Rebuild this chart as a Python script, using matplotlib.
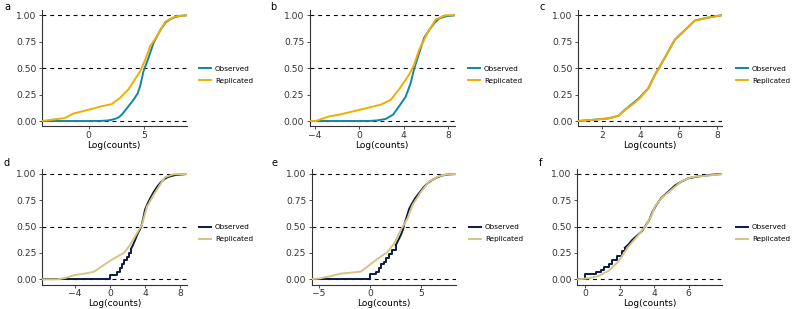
import numpy as np
import matplotlib
matplotlib.use('Agg')
import matplotlib.pyplot as plt
from matplotlib.lines import Line2D

plt.rcParams['font.family'] = ['DejaVu Sans']

###########################################################################
# 1. Data (ECDF knots of log counts)
###########################################################################
# panel a
a_obs_x = [-4.2, -2.0, 0.0, 1.0, 1.62, 2.0, 2.37, 2.7, 2.98, 3.43, 4.03, 4.4, 4.63, 4.93, 5.39, 5.84, 6.14, 6.5, 6.9, 7.3, 7.8, 8.3, 8.8]
a_obs_y = [0, 0, 0, 0.001, 0.004, 0.01, 0.02, 0.035, 0.06, 0.12, 0.2, 0.26, 0.33, 0.47, 0.6, 0.74, 0.8, 0.87, 0.93, 0.96, 0.985, 0.995, 1.0]
a_rep_x = [-4.25, -2.14, -1.39, 0.12, 1.17, 2.07, 2.83, 3.58, 4.63, 5.09, 5.54, 6.14, 6.9, 7.8, 8.85]
a_rep_y = [0, 0.028, 0.07, 0.11, 0.14, 0.16, 0.22, 0.30, 0.47, 0.58, 0.71, 0.80, 0.94, 0.99, 1.0]
# panel b
b_obs_x = [-4.5, -2.0, 0.0, 1.0, 1.65, 2.4, 3.05, 3.6, 4.19, 4.64, 4.94, 5.39, 5.84, 6.3, 6.8, 7.2, 7.8, 8.6]
b_obs_y = [0, 0, 0, 0.001, 0.006, 0.02, 0.06, 0.14, 0.23, 0.36, 0.49, 0.64, 0.785, 0.86, 0.93, 0.97, 0.99, 1.0]
b_rep_x = [-4.5, -3.9, -2.7, -1.8, -0.6, 0.6, 1.95, 2.84, 3.6, 4.5, 4.94, 5.4, 6.14, 6.89, 7.78, 8.6]
b_rep_y = [0, 0, 0.044, 0.06, 0.09, 0.12, 0.155, 0.20, 0.30, 0.44, 0.53, 0.675, 0.83, 0.96, 1.0, 1.0]
# panel c
c_obs_x = [0.75, 1.66, 2.34, 2.86, 3.21, 3.64, 3.98, 4.41, 4.76, 5.02, 5.36, 5.79, 6.31, 6.83, 7.43, 8.2]
c_obs_y = [0, 0.013, 0.025, 0.05, 0.11, 0.172, 0.226, 0.31, 0.44, 0.52, 0.63, 0.77, 0.86, 0.95, 0.975, 1.0]
c_rep_x = [0.75, 1.66, 2.34, 2.86, 3.21, 3.64, 3.98, 4.41, 4.76, 5.02, 5.36, 5.79, 6.31, 6.83, 7.43, 8.2]
c_rep_y = [0, 0.013, 0.025, 0.05, 0.107, 0.164, 0.218, 0.31, 0.44, 0.52, 0.63, 0.77, 0.86, 0.95, 0.975, 1.0]
# panel d
d_obs_x = [-7.8, 0.0, 0.75, 1.09, 1.32, 1.58, 1.89, 2.15, 2.4, 2.6, 2.8, 3.0, 3.2, 3.4, 3.6, 3.8, 4.0, 4.3, 4.6, 5.0, 5.4, 5.8, 6.2, 6.6, 7.0, 7.5, 8.8]
d_obs_y = [0, 0.045, 0.07, 0.11, 0.15, 0.18, 0.215, 0.25, 0.29, 0.32, 0.36, 0.40, 0.44, 0.47, 0.51, 0.58, 0.66, 0.72, 0.77, 0.83, 0.88, 0.92, 0.95, 0.97, 0.98, 0.99, 1.0]
d_rep_x = [-7.8, -5.96, -5.0, -4.08, -2.94, -1.81, -0.87, 0.08, 1.02, 1.58, 2.34, 3.09, 3.66, 4.23, 4.98, 5.74, 6.3, 7.25, 8.8]
d_rep_y = [0, 0, 0.016, 0.04, 0.054, 0.073, 0.127, 0.18, 0.225, 0.25, 0.33, 0.44, 0.52, 0.69, 0.80, 0.90, 0.97, 0.997, 1.0]
# panel e
e_obs_x = [-5.8, 0.0, 0.56, 0.88, 1.05, 1.37, 1.6, 1.86, 2.19, 2.52, 2.8, 3.0, 3.2, 3.33, 3.5, 3.82, 4.1, 4.4, 4.8, 5.2, 5.6, 6.0, 6.5, 7.0, 7.6, 8.4]
e_obs_y = [0, 0.047, 0.073, 0.104, 0.146, 0.168, 0.2, 0.237, 0.28, 0.326, 0.38, 0.42, 0.47, 0.52, 0.57, 0.67, 0.72, 0.77, 0.82, 0.87, 0.91, 0.94, 0.965, 0.985, 0.995, 1.0]
e_rep_x = [-5.82, -4.84, -3.86, -2.88, -1.9, -0.92, -0.26, 0.39, 1.05, 1.7, 2.35, 3.0, 3.66, 4.15, 4.97, 5.78, 6.76, 7.58, 8.4]
e_rep_y = [0, 0.01, 0.03, 0.054, 0.063, 0.073, 0.12, 0.17, 0.215, 0.26, 0.34, 0.47, 0.58, 0.705, 0.83, 0.93, 0.98, 0.997, 1.0]
# panel f
f_obs_x = [-0.42, 0.0, 0.62, 0.9, 1.06, 1.35, 1.54, 1.83, 2.12, 2.3, 2.5, 2.7, 2.9, 3.1, 3.3, 3.5, 3.7, 3.9, 4.1, 4.4, 4.8, 5.2, 5.6, 6.0, 6.5, 7.0, 7.5, 7.95]
f_obs_y = [0, 0.047, 0.073, 0.09, 0.12, 0.15, 0.18, 0.225, 0.27, 0.30, 0.33, 0.37, 0.40, 0.43, 0.46, 0.51, 0.56, 0.64, 0.70, 0.77, 0.83, 0.89, 0.93, 0.96, 0.975, 0.985, 0.995, 1.0]
f_rep_x = [-0.42, 0.19, 0.77, 1.35, 1.92, 2.5, 3.08, 3.56, 3.85, 4.04, 4.42, 5.0, 5.58, 6.15, 7.12, 7.98]
f_rep_y = [0, 0.01, 0.032, 0.08, 0.17, 0.31, 0.42, 0.52, 0.61, 0.69, 0.77, 0.85, 0.93, 0.97, 0.985, 1.0]

panel_labels = ['a', 'b', 'c', 'd', 'e', 'f']
series_labels = ['Observed', 'Replicated']
xticks = [[0, 5], [-4, 0, 4, 8], [2, 4, 6, 8], [-4, 0, 4, 8], [-5, 0, 5], [0, 2, 4, 6]]
xlims = [(-4.2, 8.8), (-4.45, 8.6), (0.75, 8.24), (-7.78, 8.77), (-5.7, 8.42), (-0.46, 7.93)]
# observed curves in the bottom row are drawn as steps up to this x, smooth after
step_until = [None, None, None, 2.4, 2.52, 2.3]

###########################################################################
# 2. Layout (pixel boxes: left, right, top, bottom)
###########################################################################
W, H = 792, 309
boxes = [(42, 186.5, 10, 126.3), (309.7, 454.7, 10, 126.3), (578, 722, 10, 126.3),
         (42, 186.7, 168.7, 284.6), (311.7, 456.3, 168.7, 284.6), (577.3, 722, 168.7, 284.6)]
legend_x = [199, 468, 736, 199, 469, 736]
letter_xy = [(4, 2), (270, 2), (539, 2), (4, 158), (271, 158), (539, 158)]

row1_cols = ['#0E87A9', '#F2AE00']
row2_cols = ['#0B1A45', '#D3C584']

data = [(a_obs_x, a_obs_y, a_rep_x, a_rep_y),
        (b_obs_x, b_obs_y, b_rep_x, b_rep_y),
        (c_obs_x, c_obs_y, c_rep_x, c_rep_y),
        (d_obs_x, d_obs_y, d_rep_x, d_rep_y),
        (e_obs_x, e_obs_y, e_rep_x, e_rep_y),
        (f_obs_x, f_obs_y, f_rep_x, f_rep_y)]

fig = plt.figure(figsize=(W / 100, H / 100), dpi=100)

for i in range(6):
    l, r, t, b = boxes[i]
    ax = fig.add_axes([l / W, 1 - b / H, (r - l) / W, (b - t) / H])
    cols = row1_cols if i < 3 else row2_cols
    ox, oy, rx, ry = data[i]
    for yy in [0, 0.5, 1.0]:
        ax.axhline(yy, color='black', lw=0.8, ls=(0, (3.5, 3.5)), zorder=1)
    if step_until[i] is None:
        ax.plot(ox, oy, color=cols[0], lw=1.4, zorder=2)
    else:
        k = int(np.searchsorted(ox, step_until[i])) + 1
        ax.plot(ox[:k], oy[:k], color=cols[0], lw=1.4, drawstyle='steps-post', zorder=2)
        ax.plot(ox[k - 1:], oy[k - 1:], color=cols[0], lw=1.4, zorder=2)
    ax.plot(rx, ry, color=cols[1], lw=1.4, zorder=3)
    ax.set_xlim(xlims[i])
    ax.set_ylim(-0.05, 1.05)
    ax.set_xticks(xticks[i])
    ax.set_yticks([0, 0.25, 0.5, 0.75, 1.0])
    ax.set_yticklabels(['0.00', '0.25', '0.50', '0.75', '1.00'])
    ax.tick_params(labelsize=6.6, colors='#333333', length=2.5, width=0.6, pad=1.5)
    ax.tick_params(axis='x', pad=1)
    for s in ['top', 'right']:
        ax.spines[s].set_visible(False)
    for s in ['left', 'bottom']:
        ax.spines[s].set_color('#333333')
        ax.spines[s].set_linewidth(0.8)
    ax.set_xlabel('Log(counts)', fontsize=6.5, labelpad=0.5)
    lx, ly = letter_xy[i]
    fig.text(lx / W, 1 - ly / H, panel_labels[i], fontsize=7, va='top', ha='left')
    handles = [Line2D([], [], color=cols[0], lw=1.4), Line2D([], [], color=cols[1], lw=1.4)]
    leg_y = (68.5 + 81) / 2 if i < 3 else (226.7 + 240) / 2
    ax.legend(handles, series_labels, loc='center left',
              bbox_to_anchor=(legend_x[i] / W, 1 - leg_y / H), bbox_transform=fig.transFigure,
              frameon=False, fontsize=5.2, handlelength=1.6, handletextpad=0.6,
              labelspacing=0.8, borderpad=0, borderaxespad=0)

plt.savefig('out.png', dpi=100)
